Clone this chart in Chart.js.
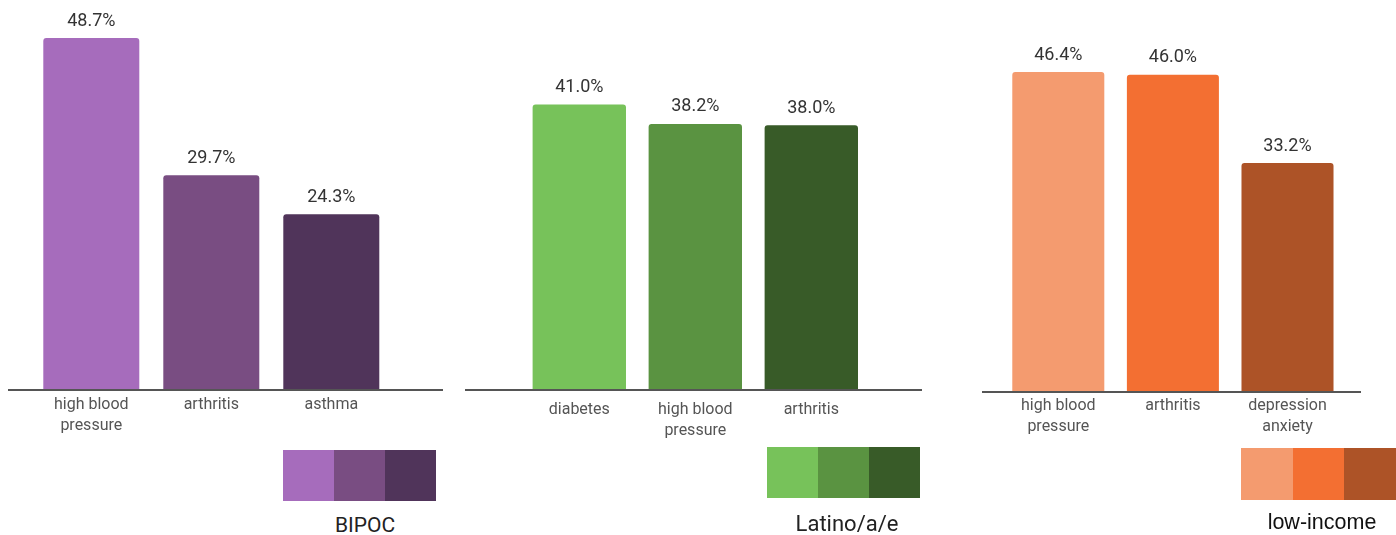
<!DOCTYPE html>
<html>
<head>
<meta charset="utf-8">
<script src="https://cdn.jsdelivr.net/npm/chart.js@4/dist/chart.umd.min.js"></script>
<style>
  html, body { margin: 0; padding: 0; background: #ffffff; }
  body { width: 1396px; height: 535px; position: relative; overflow: hidden; }
  .wrap { position: absolute; top: 0; }
  .swatches { position: absolute; display: flex; }
  .swatches div { flex: 1; height: 100%; }
  .legend-label { position: absolute; transform: translate(-50%, -50%); white-space: nowrap; }
</style>
</head>
<body>
<div class="wrap" id="w1" style="left:8px;width:435px;height:450px;"><canvas id="c1"></canvas></div>
<div class="wrap" id="w2" style="left:465px;width:457px;height:450px;"><canvas id="c2"></canvas></div>
<div class="wrap" id="w3" style="left:982px;width:379px;height:452px;"><canvas id="c3"></canvas></div>

<div class="swatches" id="s1" style="left:283px;top:450px;width:153px;height:51px;"></div>
<div class="swatches" id="s2" style="left:767px;top:447px;width:153px;height:51px;"></div>
<div class="swatches" id="s3" style="left:1241px;top:448px;width:155px;height:52px;"></div>

<div class="legend-label" id="l1" style="left:365px;top:525px;font:21px Roboto;color:#222;"></div>
<div class="legend-label" id="l2" style="left:847px;top:523px;font:22px Roboto;color:#222;"></div>
<div class="legend-label" id="l3" style="left:1322px;top:522px;font:21.5px 'Liberation Sans', Arial, sans-serif;color:#111;"></div>

<script>
// ---- Data ----
const groupNames = ['BIPOC', 'Latino/a/e', 'low-income'];

const bipocCategories = [['high blood', 'pressure'], 'arthritis', 'asthma'];
const bipocValues = [48.7, 29.7, 24.3];
const bipocColors = ['#A66CBC', '#794D82', '#50345A'];

const latinoCategories = ['diabetes', ['high blood', 'pressure'], 'arthritis'];
const latinoValues = [41.0, 38.2, 38.0];
const latinoColors = ['#77C25A', '#5A9341', '#385B28'];

const lowIncomeCategories = [['high blood', 'pressure'], 'arthritis', ['depression', 'anxiety']];
const lowIncomeValues = [46.4, 46.0, 33.2];
const lowIncomeColors = ['#F49B6F', '#F36F32', '#AD5327'];

// ---- Plugins ----
const valueLabels = {
  id: 'valueLabels',
  afterDatasetsDraw(chart) {
    const ctx = chart.ctx;
    const ds = chart.data.datasets[0];
    const meta = chart.getDatasetMeta(0);
    ctx.save();
    ctx.font = '18px Roboto';
    ctx.fillStyle = '#333333';
    ctx.textAlign = 'center';
    ctx.textBaseline = 'middle';
    meta.data.forEach((bar, i) => {
      ctx.fillText(ds.data[i].toFixed(1) + '%', bar.x, bar.y - 17);
    });
    ctx.restore();
  }
};

const baseLine = {
  id: 'baseLine',
  afterDatasetsDraw(chart) {
    const ctx = chart.ctx;
    const y = chart.chartArea.bottom;
    ctx.save();
    ctx.strokeStyle = '#555555';
    ctx.lineWidth = 2;
    ctx.beginPath();
    ctx.moveTo(0, y);
    ctx.lineTo(chart.width, y);
    ctx.stroke();
    ctx.restore();
  }
};

function makeChart(canvasId, labels, values, colors, cfg) {
  return new Chart(document.getElementById(canvasId), {
    type: 'bar',
    data: {
      labels: labels,
      datasets: [{
        data: values,
        backgroundColor: colors,
        borderRadius: 3,
        barPercentage: cfg.barPct,
        categoryPercentage: 1.0
      }]
    },
    options: {
      responsive: true,
      maintainAspectRatio: false,
      animation: false,
      events: [],
      layout: { padding: { left: cfg.padL, right: cfg.padR, top: 0, bottom: 0 } },
      plugins: { legend: { display: false }, tooltip: { enabled: false }, title: { display: false } },
      scales: {
        x: {
          grid: { display: false, drawTicks: false, tickLength: 0 },
          border: { display: false },
          ticks: {
            color: '#555555',
            padding: cfg.tickPad,
            maxRotation: 0,
            autoSkip: false,
            font: { family: 'Roboto', size: 16, lineHeight: 1.3 }
          },
          afterFit(scale) { scale.height = cfg.axisH; }
        },
        y: {
          display: false,
          min: 0,
          max: cfg.max
        }
      }
    },
    plugins: [valueLabels, baseLine]
  });
}

makeChart('c1', bipocCategories, bipocValues, bipocColors,
  { padL: 23.3, padR: 51.7, barPct: 0.8, tickPad: 4.5, axisH: 60, max: 53.96 });
makeChart('c2', latinoCategories, latinoValues, latinoColors,
  { padL: 56.3, padR: 52.7, barPct: 0.805, tickPad: 9.5, axisH: 60, max: 56.0 });
makeChart('c3', lowIncomeCategories, lowIncomeValues, lowIncomeColors,
  { padL: 19, padR: 16.2, barPct: 0.803, tickPad: 4, axisH: 60, max: 56.84 });

// ---- Legends ----
function fillSwatches(id, colors) {
  const el = document.getElementById(id);
  colors.forEach(c => {
    const d = document.createElement('div');
    d.style.background = c;
    el.appendChild(d);
  });
}
fillSwatches('s1', bipocColors);
fillSwatches('s2', latinoColors);
fillSwatches('s3', lowIncomeColors);
document.getElementById('l1').textContent = groupNames[0];
document.getElementById('l2').textContent = groupNames[1];
document.getElementById('l3').textContent = groupNames[2];
</script>
</body>
</html>
